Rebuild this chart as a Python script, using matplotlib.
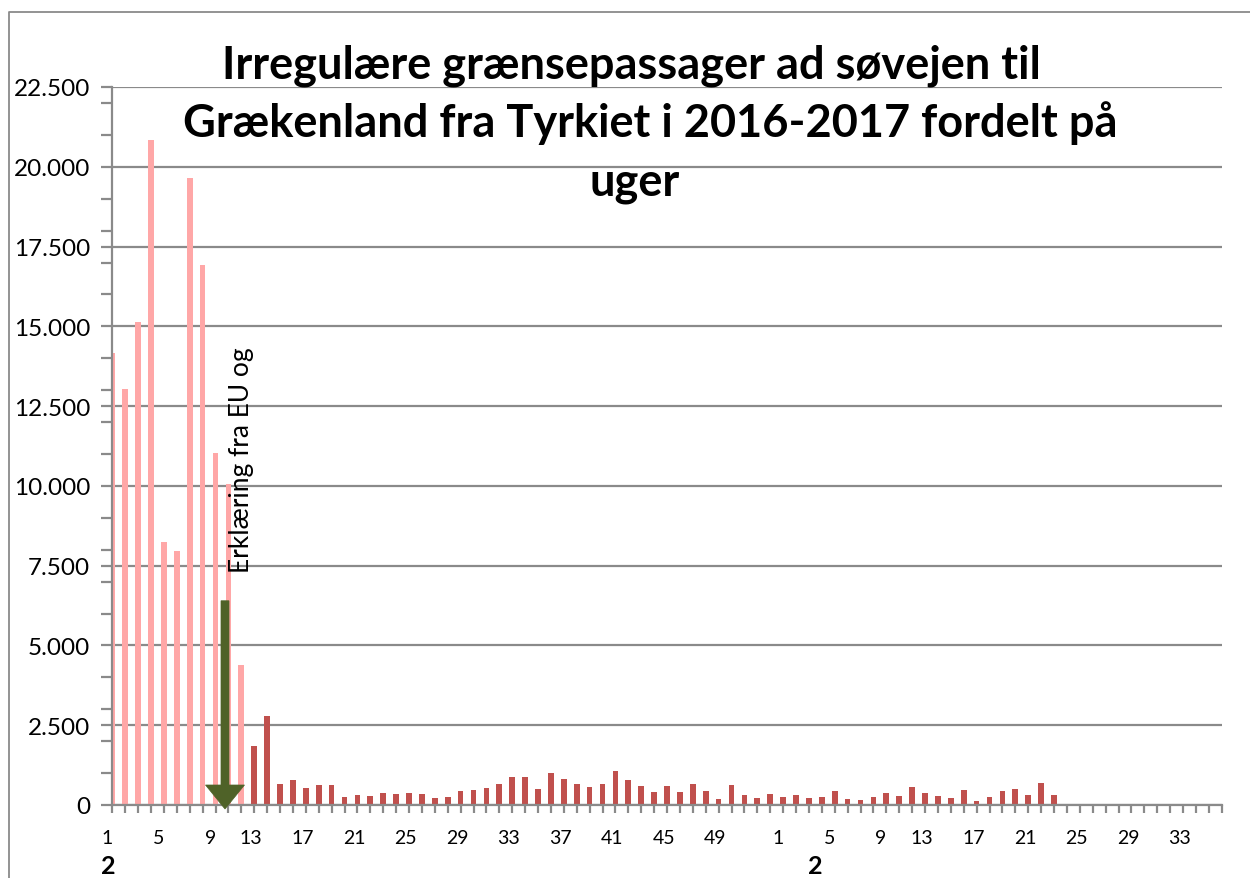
import numpy as np
import matplotlib
matplotlib.use("Agg")
import matplotlib.pyplot as plt
from matplotlib.patches import Polygon
from matplotlib.lines import Line2D

# --- data: irregular sea crossings Turkey -> Greece per week ---
weeks_2016 = list(range(1, 53))
weeks_2017 = list(range(1, 36))
values_2016 = [14150, 13050, 15150, 20850, 8250, 7970, 19650, 16920, 11030, 10060,
               4390, 1850, 2800, 660, 790, 540, 620, 620, 240, 300,
               280, 375, 345, 375, 355, 230, 250, 440, 470, 520,
               670, 880, 870, 510, 1010, 810, 670, 565, 670, 1080,
               770, 610, 420, 610, 420, 670, 450, 200, 630, 310,
               220, 345]
values_2017 = [265, 300, 220, 265, 450, 200, 170, 265, 375, 280,
               550, 380, 270, 230, 470, 120, 260, 430, 500, 310,
               690, 320, 0, 0, 0, 0, 0, 0, 0, 0,
               0, 0, 0, 0, 0]
weeks_before_statement = 11          # first weeks of 2016 drawn in light colour
year_labels = ["2", "2"]
label_every = 4

TITLE_LINES = ["Irregulære grænsepassager ad søvejen til",
               "Grækenland fra Tyrkiet i 2016-2017 fordelt på",
               "uger"]
NOTE = "Erklæring fra EU og"
arrow_week_2016 = 10
arrow_top = 6400

W, H = 1250, 879
FONT = ["Lato", "DejaVu Sans"]
plt.rcParams["font.family"] = FONT
GRAY = "#8a8a8a"
PINK = "#ffa7a7"
RED = "#c0504d"
GREEN = "#4f6228"

values = np.array(values_2016 + values_2017)
n = len(values)
x = np.arange(n)
colors = [PINK if i < weeks_before_statement else RED for i in range(n)]

fig = plt.figure(figsize=(W / 100, H / 100), dpi=100)
ax = fig.add_axes([112.3 / W, 1 - 806 / H, (1221.7 - 112.3) / W, 718 / H])

ax.bar(x, values, width=0.44, color=colors, zorder=2)

# y axis
ax.set_yticks(np.arange(0, 22501, 2500))
ax.set_yticklabels([f"{v:,.0f}".replace(",", ".") for v in np.arange(0, 22501, 2500)])
ax.set_yticks(np.arange(0, 22001, 1000), minor=True)
ax.yaxis.grid(True, which="major", color=GRAY, linewidth=1.6)
ax.set_axisbelow(True)

# x axis: tick mark on every week, label every 4th week
ax.set_xticks([])
ax.set_xticks(x, minor=True)
ax.set_xlim(0, n - 1)
ax.set_ylim(0, 22500)

xt = ax.get_xaxis_transform()
all_weeks = weeks_2016 + weeks_2017
for i, w in enumerate(all_weeks):
    if (w - 1) % label_every == 0:
        ax.text(i - (0.41 if w < 10 else 1.25), -0.0446, str(w), transform=xt,
                ha="center", va="center", fontsize=14)

ax.tick_params(axis="y", which="both", direction="out", length=8, width=1.6,
               color=GRAY, labelsize=17.5, pad=8)
ax.tick_params(axis="x", which="minor", direction="out", length=6, width=1.6, color=GRAY)

for s in ["top", "right"]:
    ax.spines[s].set_visible(False)
for s in ["left", "bottom"]:
    ax.spines[s].set_color(GRAY)
    ax.spines[s].set_linewidth(1.6)

# year group labels
ax.text(-0.33, -0.0836, year_labels[0], transform=xt,
        ha="center", va="center", fontsize=18, fontweight="bold")
ax.text(54.5, -0.0836, year_labels[1], transform=xt,
        ha="center", va="center", fontsize=18, fontweight="bold")

# arrow marking the EU-Turkey statement
px_x = (1221.7 - 112.3) / (n - 1)
px_y = 718 / 22500
ax_c = arrow_week_2016 - 1 - 3.4 / px_x
sw, hw = 4 / px_x, 19.5 / px_x
head_base = 20 / px_y
tip = -4 / px_y
arrow = Polygon([(ax_c - sw, arrow_top), (ax_c + sw, arrow_top),
                 (ax_c + sw, head_base), (ax_c + hw, head_base),
                 (ax_c, tip), (ax_c - hw, head_base), (ax_c - sw, head_base)],
                closed=True, facecolor=GREEN, edgecolor=GREEN, lw=0.5,
                zorder=4, clip_on=False)
ax.add_patch(arrow)

ax.text(arrow_week_2016 - 0.02, 7300, NOTE, rotation=90, ha="center", va="bottom",
        fontsize=19, zorder=5)

# title
title_pos = [(631, 78.3), (650, 136.7), (635, 195)]
for line, (tx, ty) in zip(TITLE_LINES, title_pos):
    fig.text(tx / W, 1 - ty / H, line, ha="center", va="baseline",
             fontsize=32.5, fontweight="bold")

# chart frame (left and top)
fig.add_artist(Line2D([9 / W, 9 / W, 1], [0, 1 - 13 / H, 1 - 13 / H],
                      color=GRAY, linewidth=1.3))

fig.savefig("out.png", dpi=100)
